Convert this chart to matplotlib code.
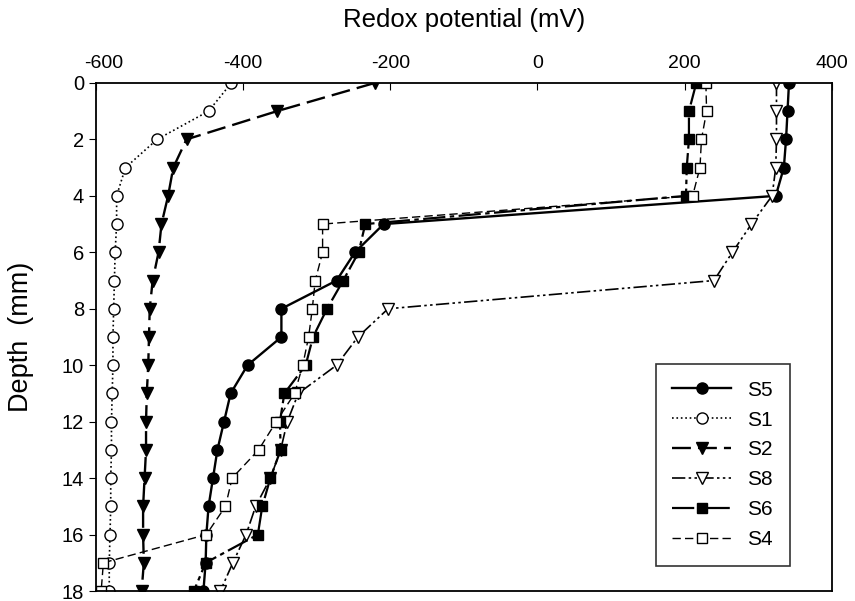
import matplotlib.pyplot as plt
import matplotlib.transforms as mtransforms

plt.rcParams['font.family'] = ['Liberation Sans', 'DejaVu Sans']
plt.rcParams['axes.unicode_minus'] = False

# depth (mm)
depth = [0, 1, 2, 3, 4, 5, 6, 7, 8, 9, 10, 11, 12, 13, 14, 15, 16, 17, 18]

# redox potential (mV) per station
s5 = [342, 340, 338, 335, 324, -209, -248, -273, -348, -348, -394, -417, -426, -435, -441, -447, -450, -451, -454]
s1 = [-416, -447, -517, -560, -572, -572, -574, -575, -576, -577, -577, -578, -579, -579, -580, -580, -581, -582, -582]
s2 = [-221, -354, -477, -495, -502, -511, -515, -523, -527, -528, -529, -531, -532, -532, -534, -536, -536, -535, -538]
s8 = [325, 325, 325, 324, 319, 291, 265, 240, -203, -244, -273, -325, -340, -349, -363, -383, -396, -414, -431]
s6 = [216, 206, 206, 203, 202, -234, -243, -264, -286, -305, -315, -344, -350, -349, -363, -374, -380, -451, -467]
s4 = [229, 230, 223, 221, 211, -292, -292, -302, -306, -311, -319, -330, -355, -379, -415, -424, -450, -590, -593]

fig = plt.figure(figsize=(8.55, 6.01), dpi=100)
ax = fig.add_axes([0.1123, 0.0166, 0.8604, 0.8454])

ms = 8
ax.plot(s5, depth, color='black', ls='-', lw=1.7, marker='o', ms=ms, mfc='black', mec='black', label='S5')
ax.plot(s1, depth, color='black', ls=':', lw=1.2, marker='o', ms=ms, mfc='white', mec='black', label='S1')
ax.plot(s2, depth, color='black', ls=(0, (8, 3)), lw=1.7, marker='v', ms=ms + 1, mfc='black', mec='black', label='S2')
ax.plot(s8, depth, color='black', ls=(0, (8, 2, 1.5, 2, 1.5, 2)), lw=1.2, marker='v', ms=ms + 1, mfc='white', mec='black', label='S8')
ax.plot(s6, depth, color='black', ls=(0, (10, 2, 2, 2)), lw=1.6, marker='s', ms=ms - 1, mfc='black', mec='black', label='S6')
ax.plot(s4, depth, color='black', ls=(0, (6, 3)), lw=1.0, marker='s', ms=ms - 1, mfc='white', mec='black', label='S4')

ax.set_xlim(-600, 400)
ax.set_ylim(18, 0)
ax.set_xticks([-600, -400, -200, 0, 200, 400])
ax.set_yticks(range(0, 19, 2))
ax.xaxis.tick_top()
ax.xaxis.set_label_position('top')
ax.tick_params(axis='x', direction='in', length=5, labelsize=14, pad=8)
ax.tick_params(axis='y', direction='out', length=5, labelsize=14.5)
ax.set_xlabel('Redox potential (mV)', fontsize=18.5, labelpad=20)
ax.set_ylabel('Depth  (mm)', fontsize=19.5, labelpad=20)

# nudge the first x tick label right, as in the original
lbl = ax.get_xticklabels()[0]
lbl.set_transform(lbl.get_transform() + mtransforms.ScaledTranslation(0.08, 0, fig.dpi_scale_trans))

leg = ax.legend(loc='lower right', bbox_to_anchor=(0.943, 0.05), fontsize=15, frameon=True,
                fancybox=False, edgecolor='black', handlelength=2.8, borderpad=0.8,
                labelspacing=0.52, handletextpad=0.8, borderaxespad=0)
leg.get_frame().set_linewidth(1.2)

for sp in ax.spines.values():
    sp.set_linewidth(1.3)

fig.savefig('out.png', dpi=100)
